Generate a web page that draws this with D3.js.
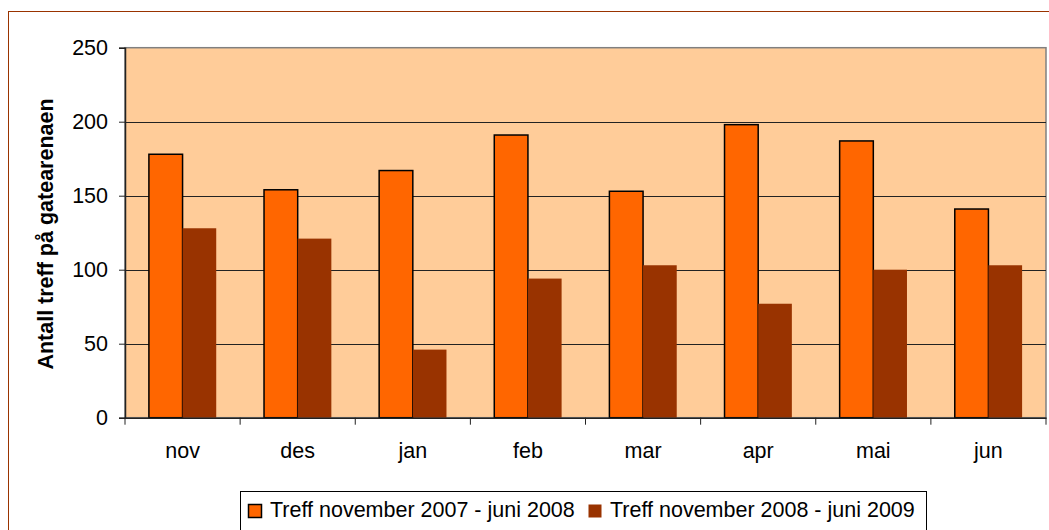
<!DOCTYPE html>
<html>
<head>
<meta charset="utf-8">
<script src="https://cdn.jsdelivr.net/npm/d3@7"></script>
<style>
  body { margin: 0; background: #fff; }
  svg { display: block; font-family: "Liberation Sans", Arial, sans-serif; }
</style>
</head>
<body>
<div id="chart"></div>
<script>
// Chart data
const months = ['nov', 'des', 'jan', 'feb', 'mar', 'apr', 'mai', 'jun'];
const series2008 = [178, 154, 167, 191, 153, 198, 187, 141];
const series2009 = [128, 121, 46, 94, 103, 77, 100, 103];
const seriesNames = ['Treff november 2007 - juni 2008', 'Treff november 2008 - juni 2009'];
const yTicks = [0, 50, 100, 150, 200, 250];

const W = 1049, H = 530;
const plot = {left: 125, top: 47.7, right: 1046, bottom: 417.7};
const fontSize = 21.5;

const svg = d3.select('#chart').append('svg')
    .attr('width', W)
    .attr('height', H);

// Outer chart border
svg.append('rect')
    .attr('x', 8.5).attr('y', 11.5)
    .attr('width', W + 20).attr('height', H + 20)
    .attr('fill', '#fff')
    .attr('stroke', '#993300')
    .attr('stroke-width', 1);

// Scales
const x = d3.scaleBand()
    .domain(months)
    .range([plot.left, plot.right]);

const y = d3.scaleLinear()
    .domain([0, 250])
    .range([plot.bottom, plot.top]);

const inner = d3.scaleBand()
    .domain([0, 1])
    .range([0, x.bandwidth()])
    .paddingInner(0)
    .paddingOuter(0.71);

// Plot background
svg.append('rect')
    .attr('x', plot.left).attr('y', plot.top)
    .attr('width', plot.right - plot.left)
    .attr('height', plot.bottom - plot.top)
    .attr('fill', '#FFCC99')
    .attr('stroke', '#808080')
    .attr('stroke-width', 1.5);

// Gridlines
svg.append('g')
    .selectAll('line')
    .data(yTicks.filter(d => d > 0 && d < 250))
    .join('line')
    .attr('x1', plot.left).attr('x2', plot.right)
    .attr('y1', d => Math.round(y(d)) + 0.5)
    .attr('y2', d => Math.round(y(d)) + 0.5)
    .attr('stroke', '#222')
    .attr('stroke-width', 1);

// Bars
const groups = svg.append('g')
    .selectAll('g')
    .data(months.map((m, i) => ({m, vals: [series2008[i], series2009[i]]})))
    .join('g')
    .attr('transform', d => `translate(${x(d.m)},0)`);

groups.append('rect')
    .attr('x', inner(0))
    .attr('y', d => y(d.vals[0]))
    .attr('width', inner.bandwidth())
    .attr('height', d => y(0) - y(d.vals[0]))
    .attr('fill', '#FF6600')
    .attr('stroke', '#000')
    .attr('stroke-width', 1.5);

groups.append('rect')
    .attr('x', inner(1))
    .attr('y', d => y(d.vals[1]))
    .attr('width', inner.bandwidth())
    .attr('height', d => y(0) - y(d.vals[1]))
    .attr('fill', '#993300');

// Y axis
const yAxis = svg.append('g')
    .attr('transform', `translate(${plot.left},0)`)
    .call(d3.axisLeft(y).tickValues(yTicks).tickSize(6).tickPadding(11));
yAxis.select('.domain').attr('stroke', '#222').attr('stroke-width', 1.5);
yAxis.selectAll('.tick line').attr('stroke', '#222');
yAxis.selectAll('.tick text')
    .attr('font-size', fontSize)
    .attr('fill', '#000')
    .style('font-family', '"Liberation Sans", Arial, sans-serif');

// X axis
const xAxis = svg.append('g')
    .attr('transform', `translate(0,${plot.bottom})`)
    .call(d3.axisBottom(x).tickSize(0).tickPadding(25));
xAxis.select('.domain').attr('stroke', '#222').attr('stroke-width', 1.5);
xAxis.selectAll('.tick text')
    .attr('font-size', fontSize)
    .attr('fill', '#000')
    .style('font-family', '"Liberation Sans", Arial, sans-serif');

// Category separator ticks
svg.append('g')
    .selectAll('line')
    .data(months.concat(['end']))
    .join('line')
    .attr('x1', d => d === 'end' ? plot.right : x(d))
    .attr('x2', d => d === 'end' ? plot.right : x(d))
    .attr('y1', plot.bottom)
    .attr('y2', plot.bottom + 7)
    .attr('stroke', '#222');

// Y axis title
svg.append('text')
    .attr('transform', `translate(53,${234}) rotate(-90)`)
    .attr('text-anchor', 'middle')
    .attr('font-size', 21.5)
    .attr('font-weight', 'bold')
    .text('Antall treff på gatearenaen');

// Legend
const legend = svg.append('g');
legend.append('rect')
    .attr('x', 240.5).attr('y', 491.5)
    .attr('width', 686).attr('height', 60)
    .attr('fill', '#fff')
    .attr('stroke', '#000')
    .attr('stroke-width', 1);

const legendX = [248, 588];
const legendColors = ['#FF6600', '#993300'];
seriesNames.forEach((name, i) => {
    legend.append('rect')
        .attr('x', legendX[i] + 0.5).attr('y', 504.5)
        .attr('width', 13).attr('height', 13)
        .attr('fill', legendColors[i])
        .attr('stroke', i === 0 ? '#000' : 'none')
        .attr('stroke-width', 1.5);
    legend.append('text')
        .attr('x', legendX[i] + 22)
        .attr('y', 517)
        .attr('font-size', fontSize)
        .text(name);
});
</script>
</body>
</html>
